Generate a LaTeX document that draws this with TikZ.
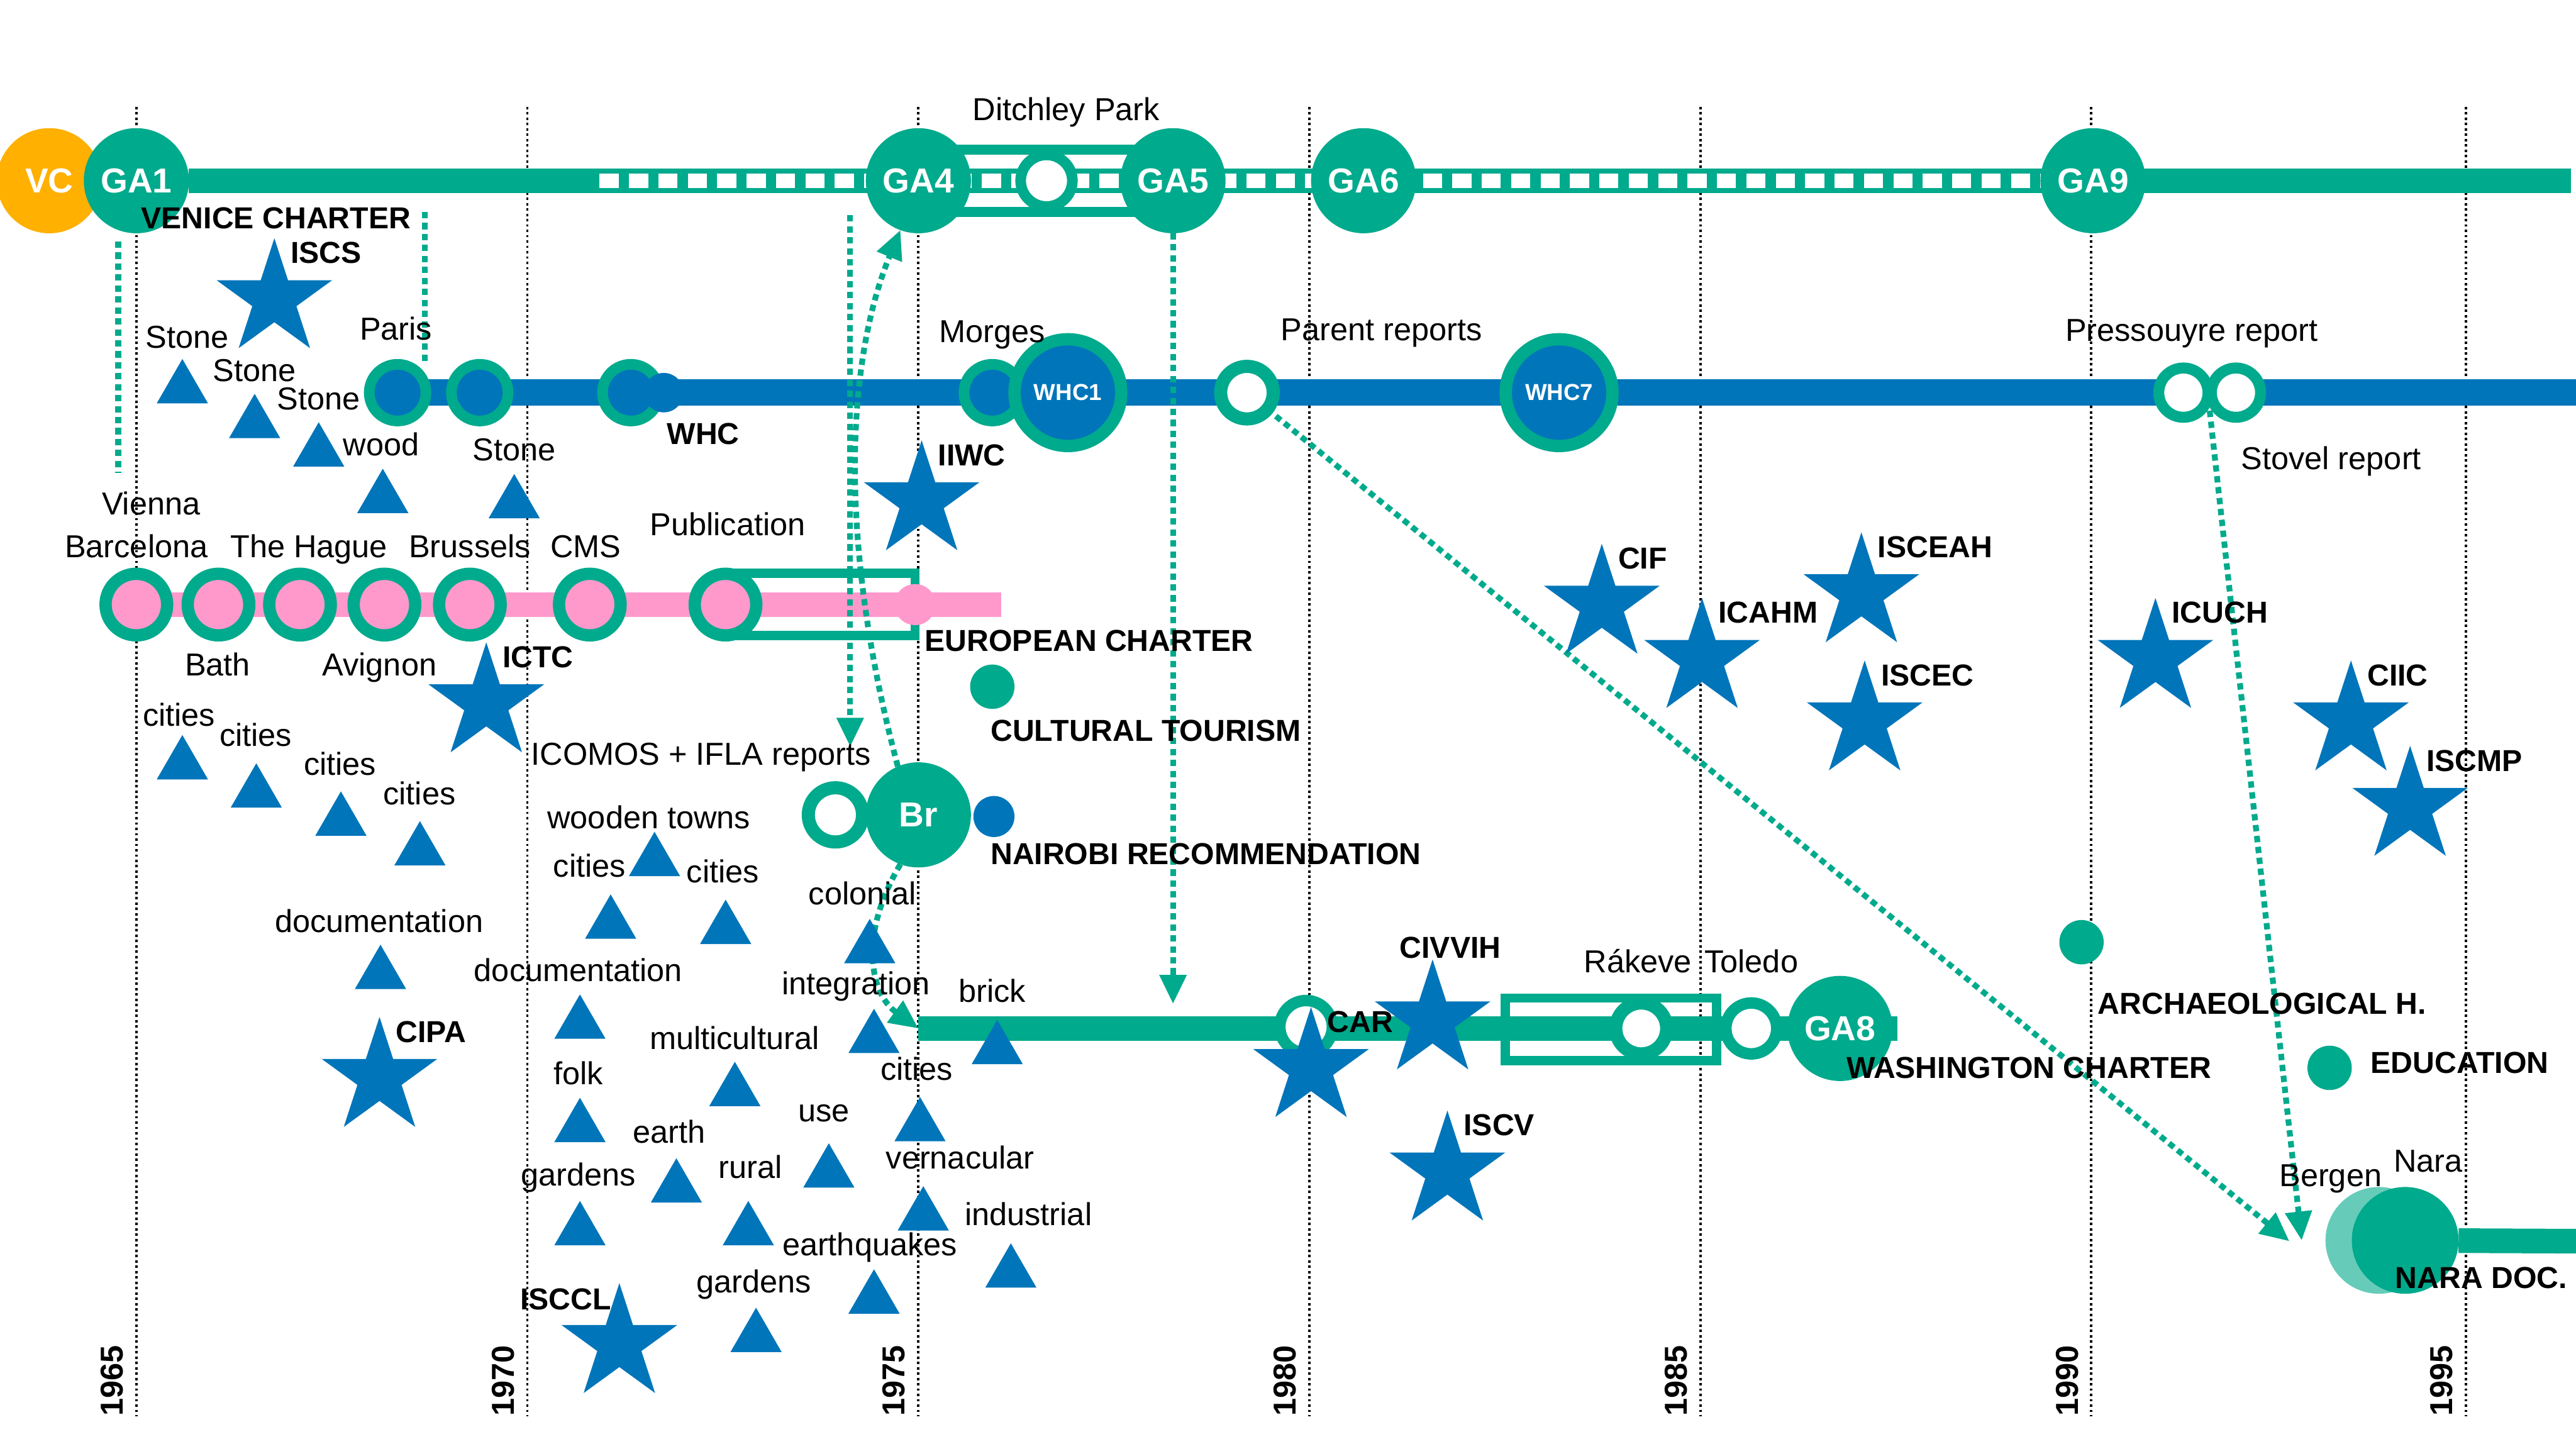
\documentclass[tikz,border=0pt]{standalone}
\usepackage{fontspec}
\setmainfont{Liberation Sans}
\usetikzlibrary{shapes.geometric,arrows.meta}
\definecolor{icgreen}{RGB}{0,170,140}
\definecolor{icblue}{RGB}{0,117,186}
\definecolor{icpink}{RGB}{255,153,204}
\definecolor{icorange}{RGB}{255,176,0}
\definecolor{icpale}{RGB}{102,204,185}
\pgfdeclarelayer{grid}
\pgfdeclarelayer{bars}
\pgfdeclarelayer{links}
\pgfsetlayers{grid,bars,links,main}
\tikzset{
  every node/.style={inner sep=0pt, outer sep=0pt},
  lbl/.style={font=\fontsize{11}{13}\selectfont, text height=0.72em, text depth=0pt},
  tag/.style={font=\fontsize{10.5}{12}\selectfont\bfseries, text height=0.72em, text depth=0pt, anchor=west},
  year/.style={font=\fontsize{11}{13}\selectfont\bfseries, rotate=90, anchor=west, text height=0.72em, text depth=0pt},
  ga/.style={circle, fill=icgreen, minimum size=1.28cm, text=white, font=\fontsize{12}{14}\selectfont\bfseries},
  vc/.style={ga, fill=icorange},
  whc/.style={circle, fill=icblue, draw=icgreen, line width=0.15cm, minimum size=1.3cm, text=white, font=\fontsize{8}{10}\selectfont\bfseries},
  ringnode/.style={circle, fill=white, draw=icgreen, line width=0.15cm, minimum size=0.63cm},
  bluering/.style={ringnode, fill=icblue, line width=0.13cm, minimum size=0.69cm},
  pinkring/.style={ringnode, fill=icpink, minimum size=0.75cm},
  dot/.style={circle, fill=icgreen, minimum size=0.54cm},
  bluedot/.style={circle, fill=icblue, minimum size=0.5cm},
  pinkdot/.style={circle, fill=icpink, minimum size=0.5cm},
  bstar/.style={star, star points=5, star point ratio=2.618, fill=icblue, minimum size=1.48cm},
  tri/.style={regular polygon, regular polygon sides=3, fill=icblue, minimum size=0.72cm},
  yearline/.style={line width=0.85pt, dash pattern=on 0.85pt off 1pt},
  bar/.style={line width=0.3cm},
  link/.style={icgreen, line width=2pt, dash pattern=on 2.2pt off 1.6pt},
  linkarrow/.style={link, -{Triangle[length=10pt, width=9pt]}},
}

\begin{document}
\begin{tikzpicture}[x=0.02cm, y=-0.02cm]
\useasboundingbox (0,0) rectangle (1568,882);

\coordinate (ga-end) at (1565,110);
\coordinate (dash-start) at (365,110);
\coordinate (whc-end) at (1568,239);
\coordinate (pink-end) at (609.5,368);
\coordinate (car-start) at (559,626);
\coordinate (car-end) at (1155,626);
\coordinate (nara-end) at (1568,755.5);
\coordinate (vc-drop) at (72,147);
\coordinate (vienna-top) at (72,288);
\coordinate (venice-drop) at (258.5,129);
\coordinate (paris-top) at (258.5,222);
\coordinate (ga4-drop) at (517.5,131);
\coordinate (icomos-top) at (517.5,454.5);
\coordinate (ga5-drop) at (714,611);
\coordinate (bergen-tip) at (1393.5,755.5);
\coordinate (pres-fork) at (1345,250);
\coordinate (nara-tip) at (1401,755);

\node[vc] (vc) at (30,110) {VC};
\node[ga] (ga1) at (83,110) {GA1};
\node[ringnode, line width=0.13cm] (ditchley) at (637,110) {};
\node[ga] (ga4) at (559,110) {GA4};
\node[ga] (ga5) at (714,110) {GA5};
\node[ga] (ga6) at (830,110) {GA6};
\node[ga] (ga9) at (1274,110) {GA9};

\node[bluering] (paris) at (242,239) {};
\node[bluering] (wr2) at (292,239) {};
\node[bluering] (wr3) at (384,239) {};
\node[bluedot, minimum size=0.48cm] (wr3b) at (404,239) {};
\node[bluering] (morges) at (604,239) {};
\node[whc] (whc1) at (650,239) {WHC1};
\node[ringnode, minimum size=0.64cm, line width=0.16cm] (parent) at (759,239) {};
\node[whc] (whc7) at (949,239) {WHC7};
\node[ringnode, minimum size=0.6cm, line width=0.134cm] (pres1) at (1329,239) {};
\node[ringnode, minimum size=0.6cm, line width=0.134cm] (pres2) at (1361,239) {};

\foreach \x [count=\i] in {83,133,182.6,234,286,359,441.6}
  \node[pinkring] (pk\i) at (\x,368) {};
\node[pinkdot] (euro) at (557,368) {};
\node[dot] (tourism) at (604,418) {};
\node[ringnode, minimum size=0.66cm, line width=0.16cm] (br-ring) at (508.5,496) {};
\node[bluedot] (nairobi) at (605,497) {};
\node[ga] (br) at (559,496) {Br};

\node[ringnode, minimum size=0.64cm, line width=0.14cm] (car-ring) at (795,625) {};
\node[ringnode, minimum size=0.62cm, line width=0.16cm] (rakeve) at (999,626) {};
\node[ringnode, minimum size=0.62cm, line width=0.14cm] (toledo) at (1066,626) {};
\node[ga] (ga8) at (1120,626) {GA8};
\node[dot] (archaeo) at (1267,573.5) {};
\node[dot] (educ) at (1418,650) {};
\node[circle, fill=icpale, minimum size=1.3cm] (bergen) at (1448,755) {};
\node[ga, minimum size=1.3cm] (nara) at (1464,755) {};

\foreach \n/\x/\y in {ISCS/167/182, IIWC/561/305, ICTC/296/428, CIPA/231/656,
    CIF/975/368, ICAHM/1036/401, ISCEAH/1133/361, ISCEC/1135/439, ICUCH/1312/401,
    CIIC/1431/439, ISCMP/1467/491, CAR/798/650, ISCV/881/713}{
  \node[bstar] (\n) at (\x,\y) {};
  \node[tag] (\n-lbl) at ([shift={(0.2cm,-0.18cm)}]\n.north) {\n};
}
\node[bstar] (CIVVIH) at (872,621) {};
\node[tag] (CIVVIH-lbl) at (852,577) {CIVVIH};
\node[bstar] (ISCCL) at (377,818) {};
\node[tag, anchor=east] (ISCCL-lbl) at (372,791) {ISCCL};

\foreach \x/\t [count=\i] in {111/218.5, 155/239.7, 194/257, 233/285.3, 313/288.5,
    111/447.4, 156/464.6, 207.5/481.7, 255.6/499.8, 398.4/506.3, 371.7/544.4,
    441.7/547.6, 231.6/575, 529.4/559.3, 353/605.3, 532/614, 607/620.8,
    447.3/646.3, 353/668.2, 560/667.7, 411.7/705, 504.5/695.9, 562/722,
    353/731, 455.5/731, 615.3/756.8, 532/772.6, 460.2/796}
  \node[tri] (t\i) at (\x,\t+18) {};

\foreach \x/\y/\s [count=\i] in {114/205.5/Stone, 155/226/Stone, 194/243/Stone,
    232/271/wood, 313/274/Stone, 92/307/Vienna, 83/333/Barcelona, 188/333/The Hague,
    286/333/Brussels, 356.5/333/CMS, 443/319.6/Publication, 132.5/405/Bath,
    231/405/Avignon, 109/435.5/cities, 155.7/448/cities, 207/465.5/cities,
    255.3/483.5/cities, 426.7/459.5/ICOMOS + IFLA reports, 395/498/wooden towns,
    358.8/527.6/cities, 440/531/cities, 525/544.4/colonial, 230.7/561/documentation,
    352/591/documentation, 521/599/integration, 604/603.7/brick,
    447/632.4/multicultural, 352/654/folk, 558/651/cities, 501.5/676.3/use,
    407.4/689.6/earth, 584.4/705/vernacular, 352/715.5/gardens, 456.8/711/rural,
    626/739.7/industrial, 529.4/758/earthquakes, 459/780.7/gardens,
    241/200.6/Paris, 604/202/Morges, 841/201/Parent reports,
    1334/201.5/Pressouyre report, 1419/279.6/Stovel report, 649/67/Ditchley Park,
    997/585.5/Rákeve, 1066/585.5/Toledo, 1418.6/716/Bergen, 1478/707/Nara}
  \node[lbl] (w\i) at (\x,\y) {\s};

\foreach \x/\y/\s [count=\i] in {86/133/VENICE CHARTER, 406/264/WHC,
    563/390/EUROPEAN CHARTER, 603/445/CULTURAL TOURISM,
    603/520/NAIROBI RECOMMENDATION, 1124/650/WASHINGTON CHARTER,
    1277/611/ARCHAEOLOGICAL H., 1443/647/EDUCATION, 1458/778/NARA DOC.}
  \node[tag] (tg\i) at (\x,\y) {\s};

\begin{pgfonlayer}{grid}
\foreach \x/\yr in {83/1965, 321/1970, 559/1975, 797/1980, 1035/1985, 1273/1990, 1501/1995}{
  \draw[yearline] (\x,65) -- (\x,862);
  \node[year] (y\yr) at (\x-14.5,862) {\yr};
}
\end{pgfonlayer}

\begin{pgfonlayer}{bars}
\draw[bar, icgreen] (ga1) -- (ga-end);
\draw[white, line width=0.18cm, dash pattern=on 0.232cm off 0.126cm] (dash-start) -- (ga9);
\draw[icgreen, line width=0.12cm] ([yshift=0.38cm]ga4.center) rectangle ([yshift=-0.38cm]ga5.center);
\draw[bar, icblue, line width=0.32cm] (paris) -- (whc-end);
\draw[bar, icpink] (pk1) -- (pink-end);
\draw[icgreen, line width=0.114cm] ([yshift=0.38cm]pk7.center) rectangle ([yshift=-0.38cm]euro.center);
\draw[bar, icgreen] (car-start) -- (car-end);
\draw[icgreen, line width=0.114cm] (916.4,607.5) rectangle (1044.8,645.5);
\draw[bar, icgreen] (nara) -- (nara-end);
\end{pgfonlayer}

\begin{pgfonlayer}{links}
\draw[link] (vc-drop) -- (vienna-top);
\draw[link] (venice-drop) -- (paris-top);
\draw[linkarrow] (ga4-drop) -- (icomos-top);
\draw[linkarrow] (br.113) .. controls (510,330) and (515,220) .. (ga4.250);
\draw[linkarrow] (br.250) .. controls (522,570) and (530,605) .. (car-start);
\draw[linkarrow] (ga5) -- (ga5-drop);
\draw[linkarrow] (parent) -- (bergen-tip);
\draw[linkarrow] (pres-fork) -- (nara-tip);
\end{pgfonlayer}
\end{tikzpicture}
\end{document}
